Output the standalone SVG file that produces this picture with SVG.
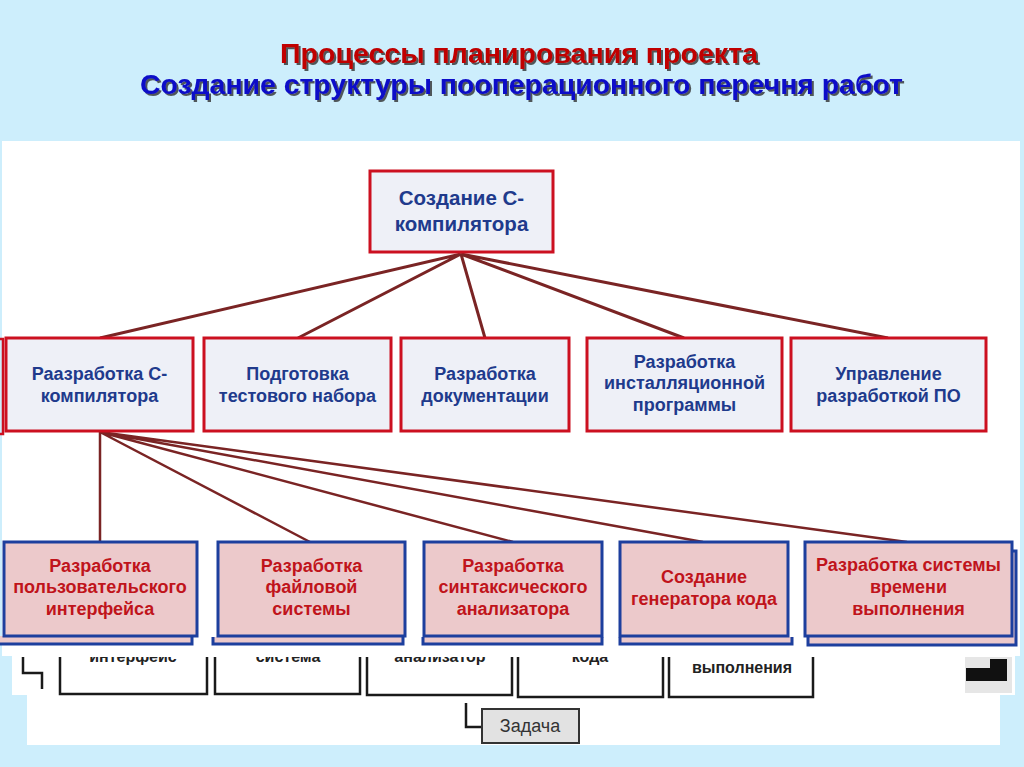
<svg xmlns="http://www.w3.org/2000/svg" width="1024" height="767" viewBox="0 0 1024 767">
<style>
.t1{font-family:"Liberation Sans",Arial,sans-serif;font-weight:bold;text-anchor:middle}
.r2{fill:#eef0f7;stroke:#cc1020;stroke-width:3}
.r2t{fill:#203a8c;font-size:18px}
.r3{fill:#ecc9cb;stroke:#1d3f9e;stroke-width:3}
.r3t{fill:#c0141b;font-size:18px}
.ln{stroke:#7a2424;stroke-width:3;fill:none}
.sc{fill:none;stroke:#1a1a1a;stroke-width:2.5}
.sct{font-family:"Liberation Sans",Arial,sans-serif;font-weight:bold;fill:#222;font-size:16px;text-anchor:middle}
</style>
<defs>
<filter id="sh" x="-5%" y="-20%" width="110%" height="150%">
<feDropShadow dx="2" dy="2" stdDeviation="0.7" flood-color="#333" flood-opacity="0.8"/>
</filter>
<clipPath id="scclip"><rect x="0" y="657" width="1024" height="110"/></clipPath>
</defs>
<rect x="0" y="0" width="1024" height="767" fill="#cdeefc"/>
<!-- title -->
<g id="title" filter="url(#sh)">
<text x="519" y="62.5" class="t1" style="font-size:27.5px;fill:#c00000" textLength="478" lengthAdjust="spacingAndGlyphs">Процессы планирования проекта</text>
<text x="521.5" y="94" class="t1" style="font-size:27.5px;fill:#0a0ac8" textLength="763" lengthAdjust="spacingAndGlyphs">Создание структуры пооперационного перечня работ</text>
</g>
<!-- scanned remnant area -->
<g id="scan">
<rect x="12" y="655" width="1003" height="40" fill="#ffffff"/>
<rect x="27" y="690" width="973" height="55" fill="#ffffff"/>
<rect x="965" y="657" width="47" height="36" fill="#e6e6e6"/>
<path d="M990,659 H1007 V681 H966 V668 H990 Z" fill="#111"/>
<path class="sc" d="M23,657 V673 H42 V689"/>
<path class="sc" d="M60,657 V694 H207 V657"/>
<path class="sc" d="M215,657 V694 H360 V657"/>
<path class="sc" d="M367,657 V695 H512 V657"/>
<path class="sc" d="M518,657 V697 H663 V657"/>
<path class="sc" d="M669,657 V697 H813 V657"/>
<g clip-path="url(#scclip)">
<text x="133" y="662" class="sct">интерфейс</text>
<text x="288" y="662" class="sct">система</text>
<text x="440" y="662" class="sct">анализатор</text>
<text x="590" y="662" class="sct">кода</text>
</g>
<text x="742" y="673" class="sct">выполнения</text>
<path class="sc" d="M466,703 V727 H482"/>
</g>
<g id="task">
<rect x="482" y="709" width="97" height="34" fill="#e2e2e2" stroke="#333" stroke-width="2"/>
<text x="530" y="732" style="font-family:'Liberation Sans',Arial,sans-serif;font-size:18px;fill:#333;text-anchor:middle">Задача</text>
</g>
<!-- white panel -->
<rect x="2" y="141" width="1018" height="515" fill="#ffffff"/>
<path d="M0,339 H3 V434 H0" fill="none" stroke="#cc1020" stroke-width="2.5"/>
<!-- connectors -->
<g id="connectors">
<path class="ln" d="M461,254 L100,338 M461,254 L298,338 M461,254 L485,338 M461,254 L684,338 M461,254 L888,338"/>
<path class="ln" style="stroke-width:2.5" d="M100,432 L100,542 M100,432 L310,542 M100,432 L513,542 M100,432 L703,542 M100,432 L907,542"/>
</g>
<!-- top node -->
<g id="n-root">
<rect class="r2" x="370" y="171" width="183" height="81"/>
<text class="t1 r2t" style="font-size:20.5px" x="461.5" y="205">Создание С-</text>
<text class="t1 r2t" style="font-size:20.5px" x="461.5" y="231">компилятора</text>
</g>
<!-- row 2 -->
<g id="n-compiler">
<rect class="r2" x="6" y="338" width="187" height="93"/>
<text class="t1 r2t" x="99.5" y="380">Раазработка С-</text>
<text class="t1 r2t" x="99.5" y="402">компилятора</text>
</g>
<g id="n-test">
<rect class="r2" x="204" y="338" width="187" height="93"/>
<text class="t1 r2t" x="297.5" y="380">Подготовка</text>
<text class="t1 r2t" x="297.5" y="402">тестового набора</text>
</g>
<g id="n-doc">
<rect class="r2" x="401" y="338" width="168" height="93"/>
<text class="t1 r2t" x="485" y="380">Разработка</text>
<text class="t1 r2t" x="485" y="402">документации</text>
</g>
<g id="n-install">
<rect class="r2" x="587" y="338" width="195" height="93"/>
<text class="t1 r2t" x="684.5" y="368">Разработка</text>
<text class="t1 r2t" x="684.5" y="389">инсталляционной</text>
<text class="t1 r2t" x="684.5" y="411">программы</text>
</g>
<g id="n-manage">
<rect class="r2" x="791" y="338" width="195" height="93"/>
<text class="t1 r2t" x="888.5" y="380">Управление</text>
<text class="t1 r2t" x="888.5" y="402">разработкой ПО</text>
</g>
<!-- row 3 -->
<g id="n-ui">
<path d="M-2,636 V644 H192 V637" fill="#ecc9cb" stroke="#1d3f9e" stroke-width="3"/>
<rect class="r3" x="4" y="542" width="193" height="94"/>
<text class="t1 r3t" x="100" y="572">Разработка</text>
<text class="t1 r3t" x="100" y="593">пользовательского</text>
<text class="t1 r3t" x="100" y="615">интерфейса</text>
</g>
<g id="n-fs">
<path d="M213,637 V644 H403 V637" fill="#ecc9cb" stroke="#1d3f9e" stroke-width="3"/>
<rect class="r3" x="218" y="542" width="187" height="94"/>
<text class="t1 r3t" x="311.5" y="572">Разработка</text>
<text class="t1 r3t" x="311.5" y="593">файловой</text>
<text class="t1 r3t" x="311.5" y="615">системы</text>
</g>
<g id="n-parser">
<path d="M423,637 V644 H602 V637" fill="#ecc9cb" stroke="#1d3f9e" stroke-width="3"/>
<rect class="r3" x="424" y="542" width="178" height="94"/>
<text class="t1 r3t" x="513" y="572">Разработка</text>
<text class="t1 r3t" x="513" y="593">синтаксического</text>
<text class="t1 r3t" x="513" y="615">анализатора</text>
</g>
<g id="n-codegen">
<path d="M620,637 V644 H792 V637" fill="#ecc9cb" stroke="#1d3f9e" stroke-width="3"/>
<rect class="r3" x="620" y="542" width="168" height="94"/>
<text class="t1 r3t" x="704" y="583">Создание</text>
<text class="t1 r3t" x="704" y="605">генератора кода</text>
</g>
<g id="n-runtime">
<path d="M1012,551 H1016 V645 H808 V637" fill="#ecc9cb" stroke="#1d3f9e" stroke-width="3"/>
<rect class="r3" x="805" y="542" width="207" height="94"/>
<text class="t1 r3t" x="908.5" y="571">Разработка системы</text>
<text class="t1 r3t" x="908.5" y="593">времени</text>
<text class="t1 r3t" x="908.5" y="615">выполнения</text>
</g>
</svg>
